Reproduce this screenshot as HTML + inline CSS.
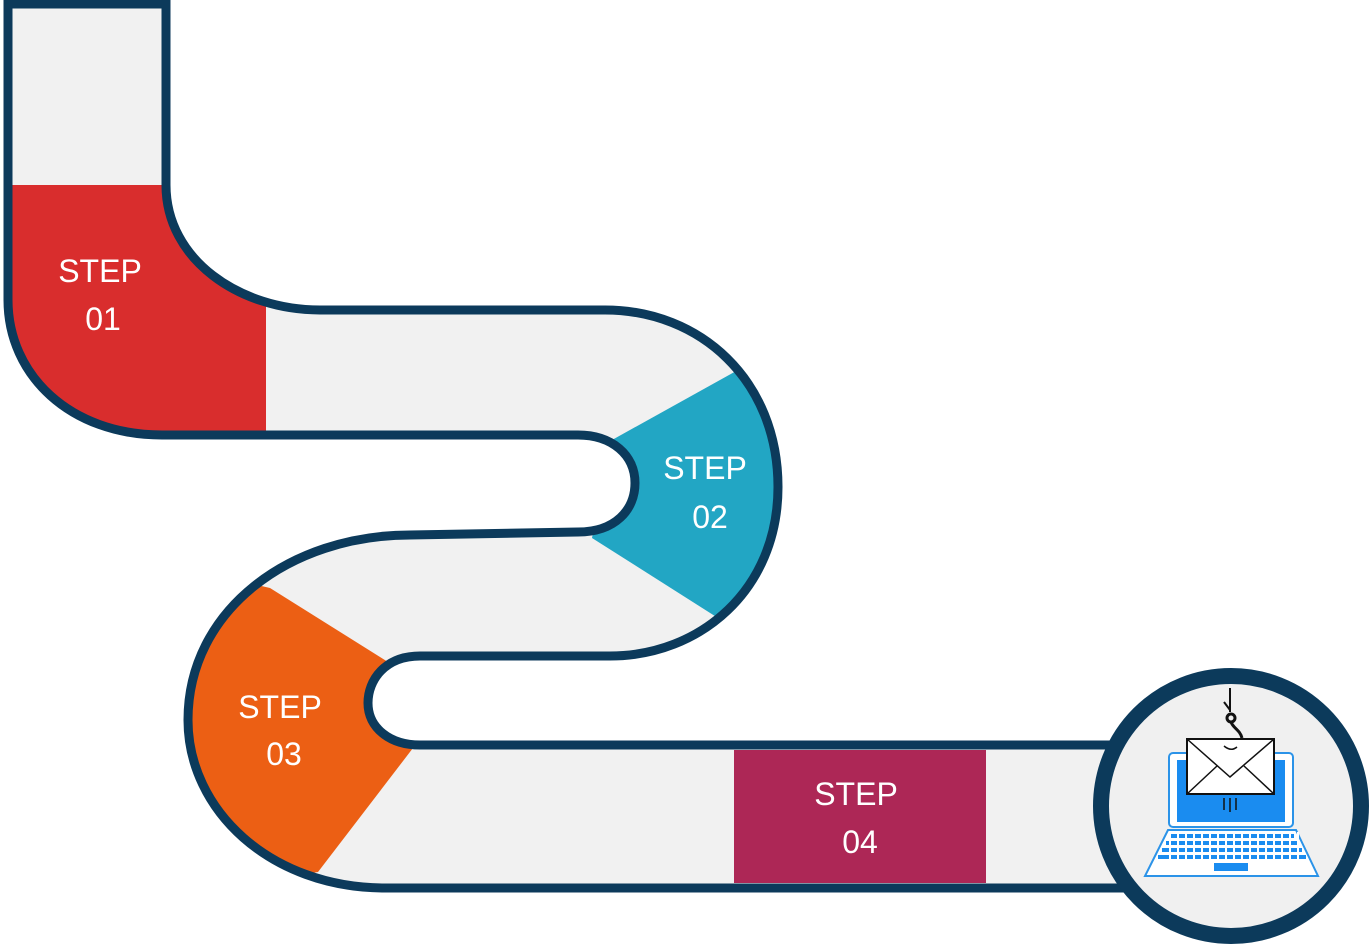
<!DOCTYPE html>
<html><head><meta charset="utf-8"><style>
html,body{margin:0;padding:0;background:#fff;}
svg{display:block;}
text{font-family:"Liberation Sans",sans-serif;font-size:32px;fill:#fff;text-anchor:middle;}
</style></head><body>
<svg width="1370" height="946" viewBox="0 0 1370 946">
<defs>
<path id="road" d="M8,4 L166,4 L166,185 C166,260 240,310 320,310 L605,310 C700,310 778,380 778,487 C778,590 700,656 610,656 L420,656 C385,656 368,680 368,703 C368,728 390,745 420,745 L1130,745 L1130,888 L385,888 C270,888 188,810 188,720 C188,610 290,535 410,535 L578,532 C615,532 635,510 635,483 C635,455 612,435 578,435 L162,435 C70,435 8,375 8,300 Z"/>
<clipPath id="rc"><use href="#road"/></clipPath>
</defs>
<use href="#road" fill="#f1f1f1"/>
<g clip-path="url(#rc)">
<polygon points="0,185 266,185 266,445 0,445" fill="#d92d2d"/>
<polygon points="612,440 738,370 800,370 800,620 718,618 592,538" fill="#22a6c4"/>
<polygon points="270,588 388,662 413,748 318,872 150,900 150,560" fill="#ec5f14"/>
<rect x="734" y="750" width="252" height="133" fill="#ad2756"/>
</g>
<use href="#road" fill="none" stroke="#0c3a5b" stroke-width="9"/>
<text x="100" y="282">STEP</text>
<text x="103" y="330">01</text>
<text x="705" y="479">STEP</text>
<text x="710" y="528">02</text>
<text x="280" y="718">STEP</text>
<text x="284" y="765">03</text>
<text x="856" y="805">STEP</text>
<text x="860" y="853">04</text>
<circle cx="1231" cy="806" r="130" fill="#f0f0f0" stroke="#0c3a5b" stroke-width="16"/>
<g>
<rect x="1169" y="753" width="124" height="74" rx="4" fill="#fff" stroke="#2b93e8" stroke-width="2"/>
<rect x="1177" y="760" width="108" height="62" fill="#1a8cf0"/>
<path d="M1168,830 L1296,830 L1318,876 L1145,876 Z" fill="#fff" stroke="#2b93e8" stroke-width="2"/>
<g fill="#1a8cf0">
<rect x="1170" y="834" width="124" height="4"/>
<rect x="1166" y="841" width="132" height="4"/>
<rect x="1162" y="848" width="140" height="4"/>
<rect x="1158" y="855" width="148" height="4"/>
<rect x="1214" y="863" width="34" height="8"/>
</g>
<g stroke="#fff" stroke-width="2">
<path d="M1178,832 V860 M1186,832 V860 M1194,832 V860 M1202,832 V860 M1210,832 V860 M1218,832 V860 M1226,832 V860 M1234,832 V860 M1242,832 V860 M1250,832 V860 M1258,832 V860 M1266,832 V860 M1274,832 V860 M1282,832 V860 M1290,832 V860 M1170,832 V860 M1298,832 V860"/>
</g>
</g>
<g>
<path d="M1230,688 V712 M1224,702 L1230,710" stroke="#111" stroke-width="2" fill="none"/>
<circle cx="1231" cy="718" r="4" fill="none" stroke="#111" stroke-width="3"/>
<path d="M1231,722 C1233,728 1240,730 1242,738" stroke="#111" stroke-width="3" fill="none"/>
<rect x="1187" y="739" width="87" height="55" fill="#fff" stroke="#111" stroke-width="2"/>
<path d="M1187,739 L1230,777 L1274,739 M1187,794 L1217,766 M1274,794 L1244,766" stroke="#111" stroke-width="1.5" fill="none"/>
<path d="M1224,746 Q1231,752 1237,747" stroke="#111" stroke-width="1.5" fill="none"/>
<path d="M1224,798 V810 M1230,798 V812 M1236,798 V810" stroke="#111" stroke-width="1.5"/>
</g>
</svg>
</body></html>
